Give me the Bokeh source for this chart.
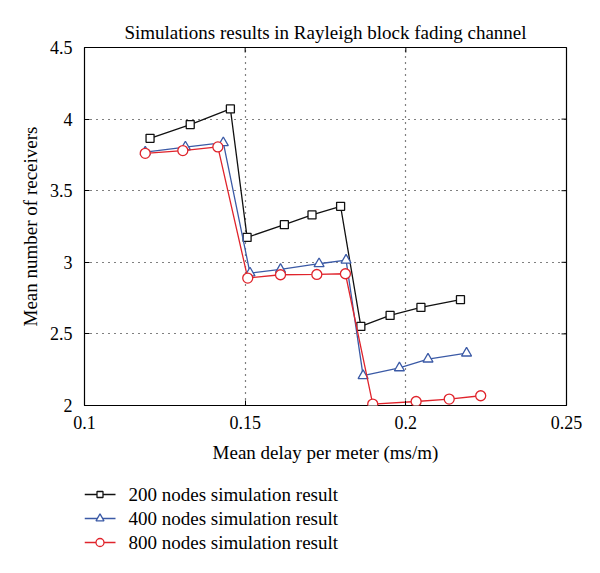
from bokeh.plotting import figure
from bokeh.layouts import column
from bokeh.models import (LinearAxis, FixedTicker, Range1d, Grid)
from bokeh.core.properties import value
from bokeh.embed import file_html
from bokeh.resources import INLINE

# ---- data ----
x200 = [0.1204, 0.1329, 0.1454, 0.1506, 0.1622, 0.1708, 0.1797, 0.1860, 0.1951, 0.2047, 0.2170]
y200 = [3.866, 3.962, 4.071, 3.174, 3.263, 3.331, 3.391, 2.552, 2.629, 2.685, 2.739]
x400 = [0.1189, 0.1314, 0.1432, 0.1515, 0.1610, 0.1730, 0.1814, 0.1867, 0.1980, 0.2069, 0.2189]
y400 = [3.770, 3.805, 3.835, 2.925, 2.950, 2.990, 3.015, 2.208, 2.263, 2.324, 2.366]
x800 = [0.1189, 0.1306, 0.1415, 0.1508, 0.1610, 0.1723, 0.1812, 0.1897, 0.2032, 0.2135, 0.2233]
y800 = [3.761, 3.780, 3.806, 2.890, 2.913, 2.915, 2.920, 2.010, 2.028, 2.045, 2.068]

series_labels = ["200 nodes simulation result",
                 "400 nodes simulation result",
                 "800 nodes simulation result"]
x_ticks = [0.1, 0.15, 0.2, 0.25]
x_tick_labels = ["0.1", "0.15", "0.2", "0.25"]
y_ticks = [2, 2.5, 3, 3.5, 4, 4.5]
y_tick_labels = ["2", "2.5", "3", "3.5", "4", "4.5"]

title_text = "Simulations results in Rayleigh block fading channel"
x_label = "Mean delay per meter (ms/m)"
y_label = "Mean number of receivers"

FONT = "Liberation Serif"
X0, X1 = 0.1, 0.25
Y0, Y1 = 2, 4.5
W, H = 600, 475
BL, BR, BT, BB = 84, 34, 47, 70
FW, FH = W - BL - BR, H - BT - BB

p = figure(width=W, height=H, output_backend="svg", toolbar_location=None,
           x_range=Range1d(X0, X1), y_range=Range1d(Y0, Y1),
           x_axis_location=None, y_axis_location=None,
           min_border_left=BL, min_border_right=BR, min_border_top=BT,
           min_border_bottom=BB)
p.outline_line_color = "black"
p.outline_line_width = 1.2
p.background_fill_color = "white"
p.border_fill_color = "white"

p.title.text = title_text
p.title.align = "center"
p.title.text_font = FONT
p.title.text_font_size = "19px"
p.title.text_font_style = "normal"
p.title.text_color = "black"

xt = FixedTicker(ticks=x_ticks)
yt = FixedTicker(ticks=y_ticks)

def style_axis(ax):
    ax.major_tick_in = 5
    ax.major_tick_out = 0
    ax.minor_tick_in = 0
    ax.minor_tick_out = 0
    ax.axis_line_color = None
    ax.major_tick_line_color = "black"
    ax.major_label_text_font = FONT
    ax.major_label_text_font_size = "18px"
    ax.major_label_text_color = "black"
    ax.axis_label_text_font = FONT
    ax.axis_label_text_font_size = "19px"
    ax.axis_label_text_font_style = "normal"
    ax.axis_label_text_color = "black"

xb = LinearAxis(ticker=xt, axis_label=x_label,
                major_label_overrides={t: l for t, l in zip(x_ticks, x_tick_labels)})
style_axis(xb)
xb.major_label_standoff = 10
xb.axis_label_standoff = 10
p.add_layout(xb, "below")

yl = LinearAxis(ticker=yt, axis_label=y_label,
                major_label_overrides={t: l for t, l in zip(y_ticks, y_tick_labels)})
style_axis(yl)
yl.major_label_standoff = 12
yl.axis_label_standoff = 6
p.add_layout(yl, "left")

# inward ticks on the top and right edges of the box
tx = 5 * (X1 - X0) / FW
ty = 5 * (Y1 - Y0) / FH
p.segment(x0=x_ticks, y0=[Y1] * len(x_ticks), x1=x_ticks,
          y1=[Y1 - ty] * len(x_ticks), line_color="black", line_width=1)
p.segment(x0=[X1] * len(y_ticks), y0=y_ticks, x1=[X1 - tx] * len(y_ticks),
          y1=y_ticks, line_color="black", line_width=1)

p.xgrid.visible = False
p.ygrid.visible = False
gx = Grid(dimension=0, ticker=xt, grid_line_color="black", grid_line_dash="1 5",
          grid_line_width=1.2)
gy = Grid(dimension=1, ticker=yt, grid_line_color="black", grid_line_dash="1 5",
          grid_line_width=1.2)
p.add_layout(gx)
p.add_layout(gy)

colors = ["#111111", "#3b5aa6", "#e0242c"]
markers = ["square", "triangle", "circle"]
sizes = [8, 10, 10]
xs = [x200, x400, x800]
ys = [y200, y400, y800]

for xv, yv, c, m, s in zip(xs, ys, colors, markers, sizes):
    p.line(xv, yv, line_color=c, line_width=1.3)
    p.scatter(xv, yv, marker=m, size=s, line_color=c, line_width=1.3,
              fill_color="white")

# ---- legend, drawn in a strip below the chart (page-pixel units) ----
LH = 573 - H
q = figure(width=W, height=LH, output_backend="svg", toolbar_location=None,
           x_range=Range1d(BL, W - BR), y_range=Range1d(0, LH),
           x_axis_location=None, y_axis_location=None,
           min_border_left=BL, min_border_right=BR, min_border_top=0,
           min_border_bottom=0)
q.outline_line_color = None
q.xgrid.visible = False
q.ygrid.visible = False
q.background_fill_color = "white"
q.border_fill_color = "white"

LEG_X0, LEG_X1, LEG_TXT = 84, 115, 128
LEG_ROW0, LEG_STEP = 19, 24
for i, (c, m, s, lab) in enumerate(zip(colors, markers, sizes, series_labels)):
    yy = LH - (LEG_ROW0 + i * LEG_STEP)
    q.segment(x0=[LEG_X0], y0=[yy], x1=[LEG_X1], y1=[yy], line_color=c,
              line_width=1.3)
    q.scatter(x=[(LEG_X0 + LEG_X1) / 2], y=[yy], marker=m, size=s - 2,
              line_color=c, line_width=1.3, fill_color="white")
    q.text(x=[LEG_TXT], y=[yy], text=[lab], text_font=value(FONT),
           text_font_size="19px", text_color="black", text_baseline="middle",
           text_align="left")

layout = column(p, q, spacing=0)
open("out.html", "w").write(file_html(layout, INLINE))
